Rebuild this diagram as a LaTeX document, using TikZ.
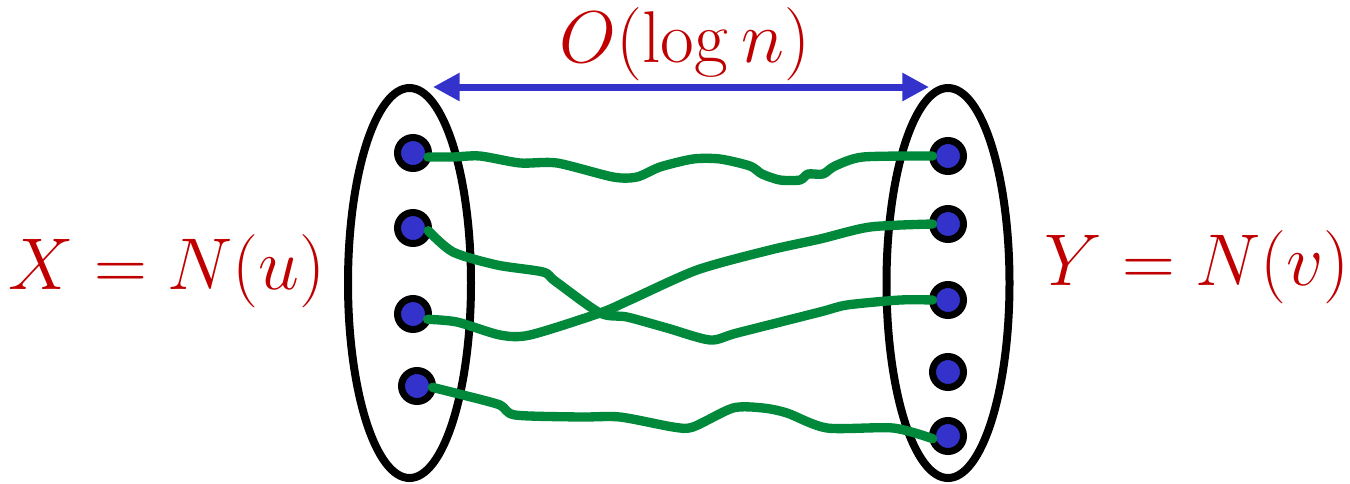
\documentclass[tikz,border=0pt]{standalone}
\usetikzlibrary{shapes.geometric,arrows.meta}
\definecolor{lblred}{HTML}{C00000}
\definecolor{dotblue}{HTML}{3333CC}
\definecolor{wiregreen}{HTML}{00893B}
\newcommand{\biglbl}[1]{\scalebox{2.21}{\Huge #1}}
\tikzset{
  setshape/.style={draw=black, line width=6pt, ellipse, inner sep=0pt, outer sep=0pt,
    minimum width=92.25pt, minimum height=292.5pt},
  vertex/.style={circle, draw=black, fill=dotblue, line width=5.25pt, inner sep=0pt,
    outer sep=0pt, minimum size=23.25pt},
  wire/.style={draw=wiregreen, line width=7pt, line cap=round, line join=round},
  lbl/.style={text=lblred, anchor=base, inner sep=0pt},
  span/.style={draw=dotblue, line width=5.25pt, {Triangle[length=20pt,width=20pt]}-{Triangle[length=20pt,width=20pt]}}
}
\begin{document}
\begin{tikzpicture}[x=0.75pt,y=-0.75pt]
\useasboundingbox (0,0) rectangle (1350,483);
% sets
\node[setshape] (X) at (409.5,283) {};
\node[setshape] (Y) at (948,283) {};
% vertices
\node[vertex] (l1) at (413,153) {};
\node[vertex] (l2) at (413,228) {};
\node[vertex] (l3) at (413,314) {};
\node[vertex] (l4) at (417,386) {};
\node[vertex] (r1) at (948,156) {};
\node[vertex] (r2) at (948,224) {};
\node[vertex] (r3) at (948,300) {};
\node[vertex] (r4) at (948,372) {};
\node[vertex] (r5) at (948,436) {};
% labels
\node[lbl] (lx) at (167,289) {\biglbl{$X = N(u)$}};
\node[lbl] (ly) at (1197,285) {\biglbl{$Y = N(v)$}};
\node[lbl] (lo) at (685,62) {\biglbl{$O(\log n)$}};
% span arrow
\coordinate (aL) at (433,87);
\coordinate (aR) at (929,87);
\draw[span] (aL) -- (aR);
% paths
\draw[wire] plot[smooth, tension=0.45] coordinates {(l1.-15) (453,157) (480,156) (520,163) (557,163) (613,177) (637,177) (660,167) (693,159) (720,159) (750,166) (762,174) (780,180) (800,180) (808,174) (823,174) (835,166) (863,157) (r1.west)};
\draw[wire] plot[smooth, tension=0.45] coordinates {(l2.-10) (453,252) (497,265) (543,272) (555,281) (600,313) (627,317) (667,328) (710,340) (737,333) (820,312) (847,305) (900,300) (r3.west)};
\draw[wire] plot[smooth, tension=0.45] coordinates {(l3.-20) (457,322) (500,335) (530,335) (600,313) (630,300) (697,270) (770,250) (820,239) (870,227) (r2.west)};
\draw[wire] plot[smooth, tension=0.45] coordinates {(l4.-5) (467,396) (500,405) (515,415) (580,417) (620,417) (673,427) (693,427) (733,408) (763,408) (787,413) (827,428) (893,428) (r5.-170)};
\end{tikzpicture}
\end{document}
